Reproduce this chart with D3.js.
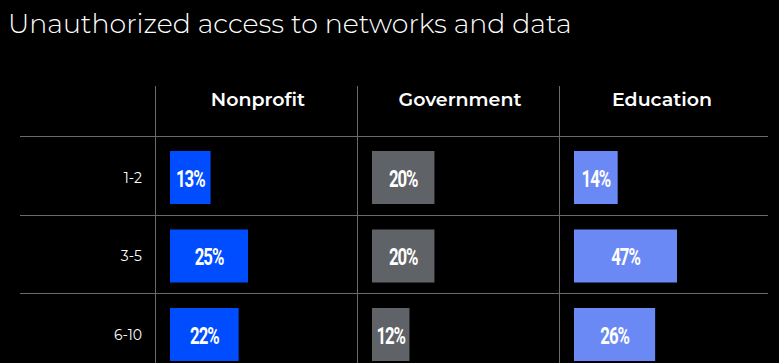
<!DOCTYPE html>
<html>
<head>
<meta charset="utf-8">
<script src="https://cdn.jsdelivr.net/npm/d3@7"></script>
<style>
  html, body { margin: 0; padding: 0; background: #000; }
  svg { display: block; }
</style>
</head>
<body>
<div class="container"></div>
<script>
var title = "Unauthorized access to networks and data";
var sectors = ["Nonprofit", "Government", "Education"];
var groups = ["1-2", "3-5", "6-10"];
// percent per group, one array per sector
var nonprofit = [13, 25, 22];
var government = [20, 20, 12];
var education = [14, 47, 26];
var colors = ["#004cff", "#5f6266", "#6a89f5"];

var w = 779, h = 363;

var svg = d3.select(".container")
  .append("svg")
  .attr("width", w)
  .attr("height", h);

var series = [nonprofit, government, education];
var cells = [];
sectors.forEach(function (s, i) {
  groups.forEach(function (g, j) {
    cells.push({ sector: s, group: g, value: series[i][j], color: colors[i] });
  });
});

var xCol = d3.scaleBand().domain(sectors).range([155, 761]);
var yRow = d3.scaleBand().domain(groups).range([136, 371.5]);
// bar length, capped so wide values stay inside their cell
var len = d3.scaleLinear().domain([0, 33]).range([0, 103]).clamp(true);

var grid = "#6a6a6a";

// title
var t = svg.append("text")
  .attr("x", 8)
  .attr("y", 33)
  .attr("fill", "#fff")
  .style("font-family", "Montserrat, 'Open Sans', sans-serif")
  .style("font-weight", 300)
  .style("font-size", "30px")
  .text(title);
var tw = t.node().getComputedTextLength();
t.style("font-size", (30 * 564 / tw) + "px");

// grid lines
svg.selectAll("line.h")
  .data(groups)
  .enter()
  .append("line")
  .attr("class", "h")
  .attr("x1", 20)
  .attr("x2", 768)
  .attr("y1", (d) => Math.round(yRow(d)) + 0.5)
  .attr("y2", (d) => Math.round(yRow(d)) + 0.5)
  .attr("stroke", grid)
  .attr("stroke-width", 1);

svg.selectAll("line.v")
  .data(sectors)
  .enter()
  .append("line")
  .attr("class", "v")
  .attr("x1", (d) => Math.round(xCol(d)) + 0.5)
  .attr("x2", (d) => Math.round(xCol(d)) + 0.5)
  .attr("y1", 86)
  .attr("y2", h)
  .attr("stroke", grid)
  .attr("stroke-width", 1);

// column headers
svg.selectAll("text.head")
  .data(sectors)
  .enter()
  .append("text")
  .attr("class", "head")
  .attr("x", (d) => xCol(d) + xCol.bandwidth() / 2 + 2)
  .attr("y", 106)
  .attr("text-anchor", "middle")
  .attr("fill", "#fff")
  .style("font-family", "Montserrat, 'Open Sans', sans-serif")
  .style("font-weight", 600)
  .style("font-size", "19px")
  .text((d) => d);

// row labels
svg.selectAll("text.row")
  .data(groups)
  .enter()
  .append("text")
  .attr("class", "row")
  .attr("x", 142)
  .attr("y", (d) => yRow(d) + 42)
  .attr("dy", "0.35em")
  .attr("text-anchor", "end")
  .attr("fill", "#fff")
  .style("font-family", "Montserrat, 'Open Sans', sans-serif")
  .style("font-weight", 400)
  .style("font-size", "14px")
  .text((d) => d);

// bars
var bar = svg.selectAll("g.cell")
  .data(cells)
  .enter()
  .append("g")
  .attr("class", "cell")
  .attr("transform", (d) => "translate(" + (xCol(d.sector) + 15) + "," + (yRow(d.group) + 15) + ")");

bar.append("rect")
  .attr("width", (d) => len(d.value))
  .attr("height", 53)
  .attr("fill", (d) => d.color);

// condensed look: squeeze the label horizontally
bar.append("text")
  .attr("transform", (d) => "translate(" + len(d.value) / 2 + ",27) scale(0.7,1)")
  .attr("dy", "0.36em")
  .attr("text-anchor", "middle")
  .attr("fill", "#fff")
  .style("font-family", "Roboto, 'Liberation Sans', sans-serif")
  .style("font-weight", 700)
  .style("font-size", "24px")
  .style("letter-spacing", "-1.5px")
  .text((d) => d.value + "%");
</script>
</body>
</html>
